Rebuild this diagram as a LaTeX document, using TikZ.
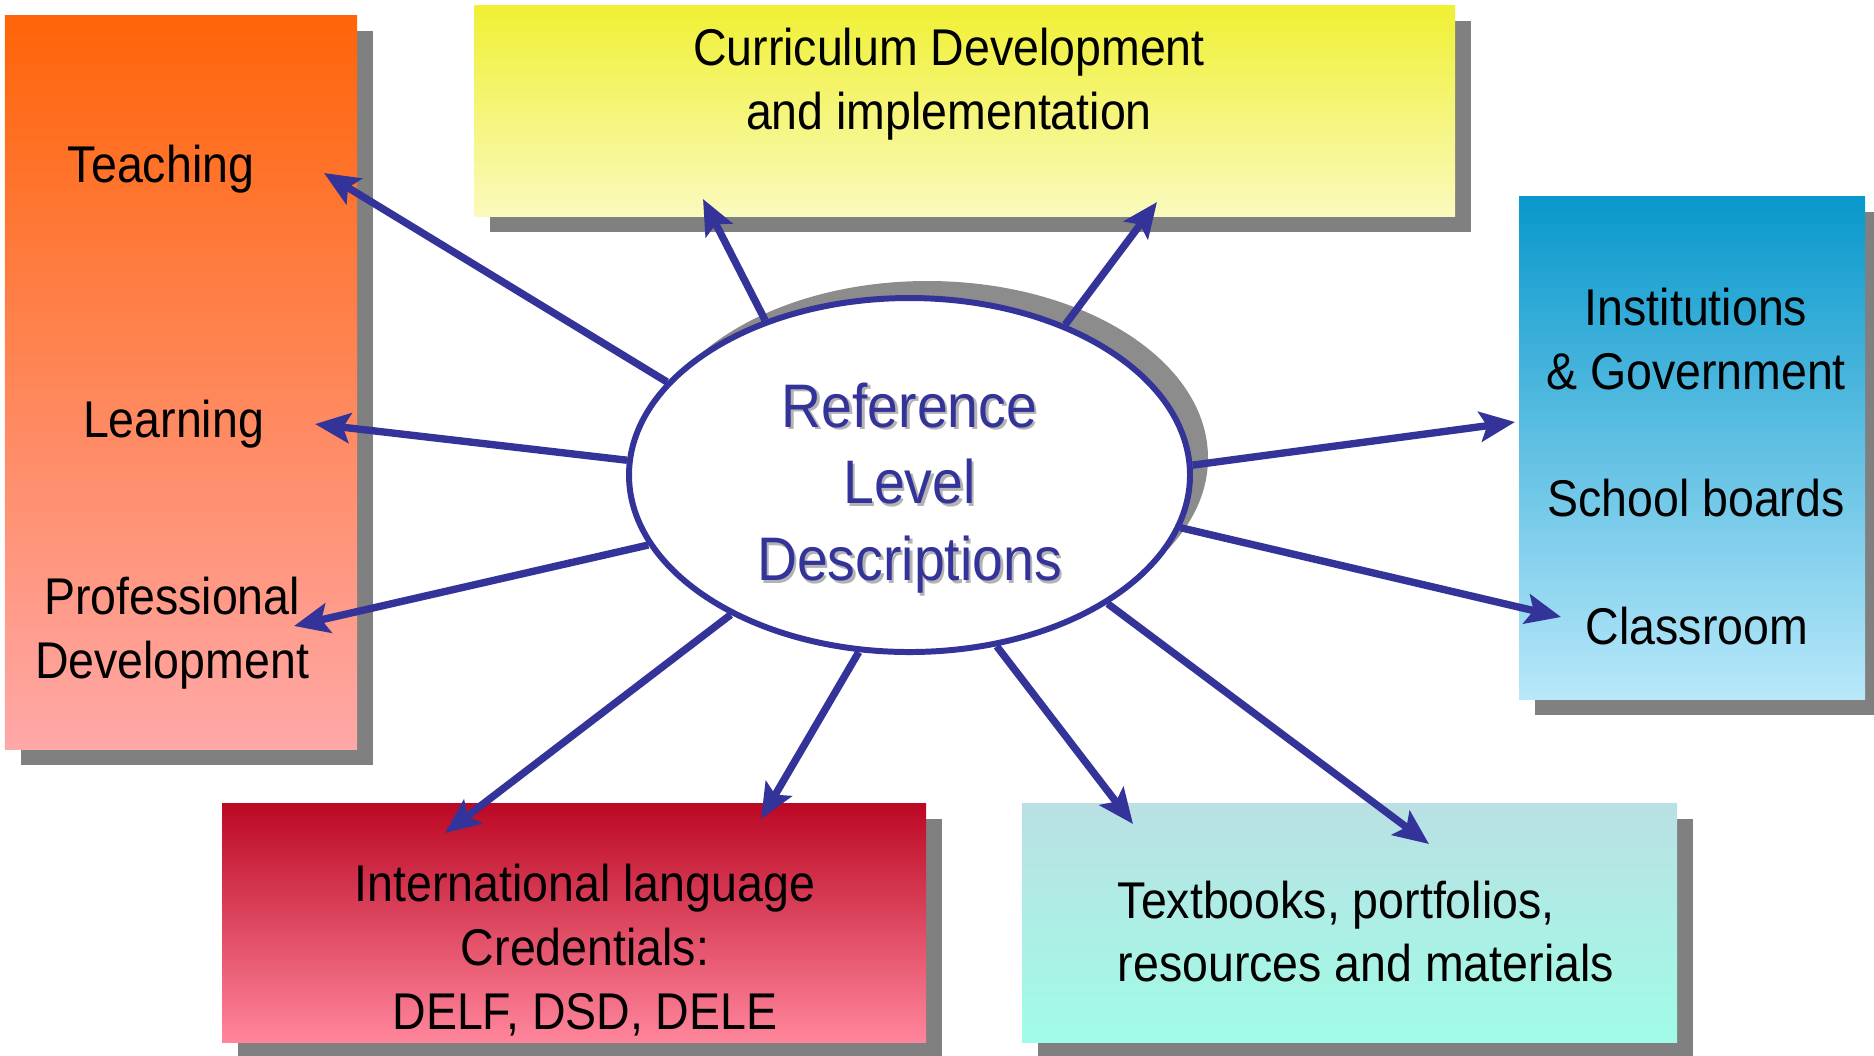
\documentclass[tikz,border=0pt]{standalone}
\usepackage{fontspec}
\setmainfont{Liberation Sans}[FakeStretch=0.9]
\usepackage{tikz}
\usetikzlibrary{arrows.meta,shadows,shapes}
\definecolor{navy}{RGB}{51,51,153}
\definecolor{shadowgray}{RGB}{128,128,128}
\definecolor{orangetop}{RGB}{255,100,8}
\definecolor{orangebot}{RGB}{255,168,168}
\definecolor{yellowtop}{RGB}{240,240,52}
\definecolor{yellowbot}{RGB}{250,250,190}
\definecolor{bluetop}{RGB}{8,152,204}
\definecolor{bluebot}{RGB}{184,232,250}
\definecolor{redtop}{RGB}{188,8,36}
\definecolor{redbot}{RGB}{255,134,156}
\definecolor{tealtop}{RGB}{186,224,228}
\definecolor{tealbot}{RGB}{160,252,230}
\tikzstyle{box}     = [rectangle, inner sep=0pt, drop shadow={shadow xshift=0.16cm,
                       shadow yshift=-0.16cm, fill=shadowgray, opacity=1}]
\tikzstyle{lbl}     = [align=center, inner sep=0pt, font=\fontsize{14.7}{18.2}\selectfont]
\tikzstyle{rldtext} = [align=center, inner sep=0pt, font=\fontsize{17.5}{21.8}\selectfont]
\tikzstyle{ptr}     = [draw, navy, line width=2.1pt, -{Stealth[length=10pt,width=8.5pt,inset=2pt]}]

\begin{document}
\begin{tikzpicture}
		\useasboundingbox (0,0) rectangle (18.74,-10.55);

		% coloured boxes
		\node[box, minimum width=3.52cm, minimum height=7.34cm, top color=orangetop, bottom color=orangebot] (lbox) at (1.81,-3.82) {};
		\node[box, minimum width=9.81cm, minimum height=2.11cm, top color=yellowtop, bottom color=yellowbot] (cbox) at (9.645,-1.105) {};
		\node[box, minimum width=3.46cm, minimum height=5.03cm, top color=bluetop, bottom color=bluebot] (gbox) at (16.92,-4.475) {};
		\node[box, minimum width=7.04cm, minimum height=2.39cm, top color=redtop, bottom color=redbot] (ibox) at (5.74,-9.225) {};
		\node[box, minimum width=6.55cm, minimum height=2.39cm, top color=tealtop, bottom color=tealbot] (tbox) at (13.495,-9.225) {};

		\node[lbl] (teach) at (1.61,-1.69) {Teaching};
		\node[lbl] (learn) at (1.735,-4.24) {Learning};
		\node[lbl] (prof) at (1.72,-6.335) {Professional\\Development};
		\node[lbl] (curr) at (9.49,-0.846) {Curriculum Development\\and implementation};
		\node[lbl] (inst) at (16.96,-3.39) {Institutions\\\& Government};
		\node[lbl] (board) at (16.96,-4.98) {School boards};
		\node[lbl] (class) at (16.97,-6.26) {Classroom};
		\node[lbl] (intl) at (5.85,-9.5) {International language\\Credentials:\\DELF, DSD, DELE};
		\node[lbl, align=left, anchor=west] (books) at (11.17,-9.315) {Textbooks, portfolios,\\resources and materials};

		% centre ellipse
		\node[ellipse, draw=navy, line width=1.7pt, fill=white, minimum width=5.61cm, minimum height=3.54cm,
			inner sep=0pt, drop shadow={shadow xshift=0.18cm, shadow yshift=0.17cm, fill=shadowgray, opacity=0.9}] (rld) at (9.095,-4.75) {};
		\node[rldtext, text=shadowgray!60] (rldshadow) at (9.12,-4.905) {Reference\\Level\\Descriptions};
		\node[rldtext, text=navy] (rldlabel) at (9.095,-4.88) {Reference\\Level\\Descriptions};

		\coordinate (tTeach) at (3.24,-1.73);
		\coordinate (tLearn) at (3.15,-4.24);
		\coordinate (tProf) at (2.94,-6.26);
		\coordinate (tCurrA) at (7.03,-1.99);
		\coordinate (tCurrB) at (11.57,-2.02);
		\coordinate (tInst) at (15.15,-4.22);
		\coordinate (tClass) at (15.61,-6.17);
		\coordinate (tIntlA) at (4.45,-8.33);
		\coordinate (tIntlB) at (7.61,-8.19);
		\coordinate (tBookA) at (11.33,-8.24);
		\coordinate (tBookB) at (14.29,-8.44);

		\path[ptr] (rld.159.6) -- (tTeach);
		\path[ptr] (rld.177) -- (tLearn);
		\path[ptr] (rld.195.2) -- (tProf);
		\path[ptr] (rld.133.7) -- (tCurrA);
		\path[ptr] (rld.44.5) -- (tCurrB);
		\path[ptr] (rld.2.2) -- (tInst);
		\path[ptr] (rld.349.6) -- (tClass);
		\path[ptr] (rld.218.1) -- (tIntlA);
		\path[ptr] (rld.254.4) -- (tIntlB);
		\path[ptr] (rld.297.1) -- (tBookA);
		\path[ptr] (rld.327.1) -- (tBookB);
	\end{tikzpicture}
\end{document}
